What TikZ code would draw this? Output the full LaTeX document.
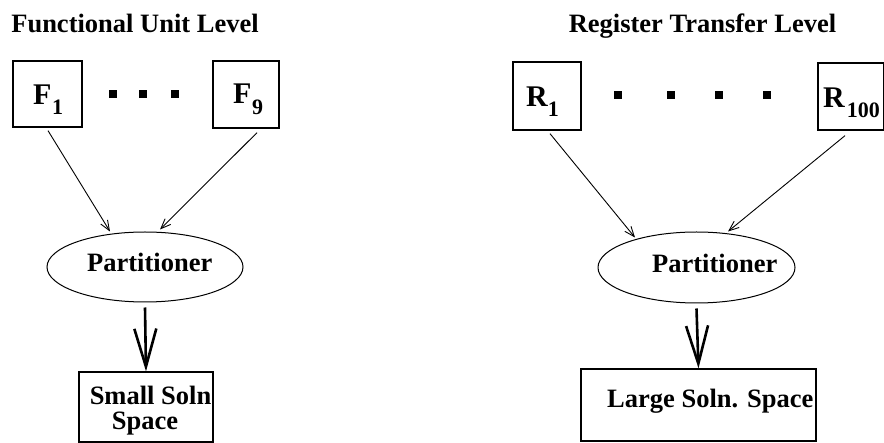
\documentclass[tikz,border=0pt]{standalone}
\usepackage{fontspec}
\setmainfont{Liberation Serif}
\usetikzlibrary{arrows.meta,shapes.geometric,calc}
\begin{document}
\begin{tikzpicture}[x=1pt,y=-1pt,
  box/.style={draw,line width=1.3pt,inner sep=0pt,rectangle},
  oval/.style={draw,ellipse,line width=1pt,inner sep=0pt},
  dotsq/.style={fill,inner sep=0pt,minimum size=8.5pt},
  lbl/.style={inner sep=0pt,font=\fontsize{26.5}{26.5}\selectfont\bfseries},
  big/.style={inner sep=0pt,font=\fontsize{30}{30}\selectfont\bfseries},
  thinarrow/.style={line width=0.9pt,-{Straight Barb[length=10pt,width=8pt]}},
  bigarrow/.style={line width=2.6pt,-{Straight Barb[length=38pt,width=22pt]}}]
\useasboundingbox (0,0) rectangle (884,443);
% titles
\node[lbl,anchor=base] (t1) at (135,33) {Functional Unit Level};
\node[lbl,anchor=base] (t2) at (702.5,33) {Register Transfer Level};
% left side boxes
\node[box,minimum width=69pt,minimum height=66pt] (F1) at (47.5,94) {};
\node[box,minimum width=66pt,minimum height=67pt] (F9) at (246,94.5) {};
\node[big,anchor=base west] (F1t) at (33,105) {F\kern0.5pt\raisebox{-10pt}{\fontsize{22}{22}\selectfont 1}};
\node[big,anchor=base west] (F9t) at (233,104) {F\kern0.5pt\raisebox{-11pt}{\fontsize{22}{22}\selectfont 9}};
\node[dotsq] (d1) at (113,94) {};
\node[dotsq] (d2) at (143,94) {};
\node[dotsq] (d3) at (175,94) {};
\node[oval,minimum width=196pt,minimum height=70pt] (P1) at (145,267) {};
\node[lbl,anchor=base west] (P1t) at (87,272) {Partitioner};
\node[box,minimum width=134pt,minimum height=70pt] (S1) at (146,407) {};
\node[lbl,anchor=base] (S1a) at (150.5,405) {Small Soln};
\node[lbl,anchor=base] (S1b) at (145,430) {Space};
\draw[thinarrow] ($(F1.south)+(0.5,3)$) -- ($(P1.north)+(-35,0)$);
\draw[thinarrow] ($(F9.south)+(11,4)$) -- ($(P1.north)+(15,-2)$);
\draw[bigarrow] ($(P1.south)+(0,5)$) -- (S1.north);
% right side boxes
\node[box,minimum width=68pt,minimum height=68pt] (R1) at (547,96) {};
\node[box,minimum width=66pt,minimum height=67pt] (R100) at (851,96.5) {};
\node[big,anchor=base west] (R1t) at (526,107) {R\raisebox{-10pt}{\fontsize{22}{22}\selectfont 1}};
\node[big,anchor=base west] (R100t) at (823,108) {R\kern2pt\raisebox{-10pt}{\fontsize{22}{22}\selectfont 100}};
\node[dotsq,minimum size=8pt] (e1) at (618,95) {};
\node[dotsq,minimum size=8pt] (e2) at (671,95) {};
\node[dotsq,minimum size=8pt] (e3) at (719,95) {};
\node[dotsq,minimum size=8pt] (e4) at (767,95) {};
\node[oval,minimum width=197pt,minimum height=71pt] (P2) at (696.5,267.5) {};
\node[lbl,anchor=base west] (P2t) at (652,272.5) {Partitioner};
\node[box,minimum width=235pt,minimum height=72pt] (L1) at (698.5,405) {};
\node[lbl,anchor=base west] (L1t) at (607,408) {Large Soln. Space};
\draw[thinarrow] ($(R1.south)+(3,3)$) -- ($(P2.north)+(-61.5,6)$);
\draw[thinarrow] ($(R100.south)+(-6,5)$) -- ($(P2.north)+(31.5,0)$);
\draw[bigarrow] ($(P2.south)+(0,5)$) -- (L1.north);
\end{tikzpicture}
\end{document}
